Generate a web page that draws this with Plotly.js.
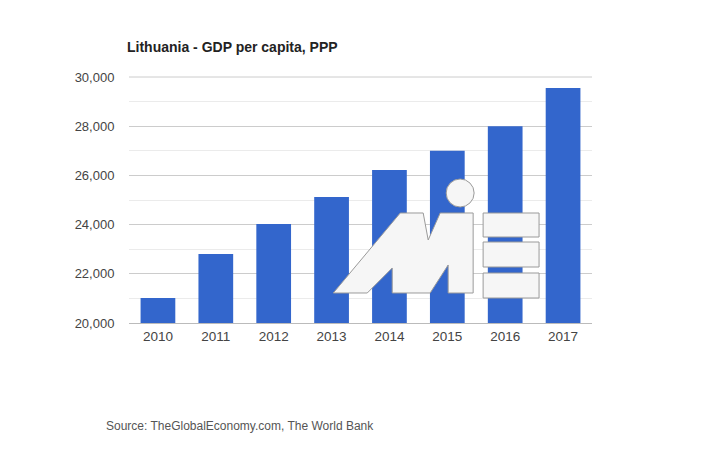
<!DOCTYPE html>
<html>
<head>
<meta charset="utf-8">
<script src="https://cdn.plot.ly/plotly-3.0.1.min.js"></script>
<style>html,body{margin:0;padding:0;background:#fff;}#chart{width:720px;height:450px;}</style>
</head>
<body>
<div id="chart"></div>
<script>
const years = ["2010","2011","2012","2013","2014","2015","2016","2017"];
const gdpPerCapita = [21020, 22800, 24020, 25120, 26220, 27000, 28000, 29550];
const yTicks = [20000, 22000, 24000, 26000, 28000, 30000];
const titleText = "Lithuania - GDP per capita, PPP";
const sourceText = "Source: TheGlobalEconomy.com, The World Bank";

// plot area in pixels (for placing the watermark logo)
const L = 128.5, R = 592, T = 77, B = 323;
const px = x => (x - L) / (R - L);
const py = y => (B - y) / (B - T);
function poly(pts) {
  return pts.map((p, i) => (i ? "L" : "M") + px(p[0]).toFixed(4) + "," + py(p[1]).toFixed(4)).join(" ") + " Z";
}
const logoFill = "#f6f6f6", logoLine = "#9a9a9a";
const shapes = [
  // top gridline at the range edge (Plotly omits gridlines on the plot border)
  {type: "line", xref: "paper", yref: "paper", layer: "below",
   x0: 0, x1: 1, y0: 1, y1: 1,
   line: {color: "#cccccc", width: 1}},
  {type: "path", xref: "paper", yref: "paper", layer: "above",
   path: poly([[333,293],[400,213],[423,213],[428,240],[440,213],[473,213],[473,293],[448,293],[448,265],[430,293],[392,293],[392,268],[367,293]]),
   fillcolor: logoFill, line: {color: logoLine, width: 1}},
  {type: "circle", xref: "paper", yref: "paper", layer: "above",
   x0: px(446), x1: px(474), y0: py(207), y1: py(179),
   fillcolor: logoFill, line: {color: logoLine, width: 1}},
  {type: "rect", xref: "paper", yref: "paper", layer: "above",
   x0: px(483), x1: px(539), y0: py(237), y1: py(213),
   fillcolor: logoFill, line: {color: logoLine, width: 1}},
  {type: "rect", xref: "paper", yref: "paper", layer: "above",
   x0: px(483), x1: px(539), y0: py(267), y1: py(242),
   fillcolor: logoFill, line: {color: logoLine, width: 1}},
  {type: "rect", xref: "paper", yref: "paper", layer: "above",
   x0: px(483), x1: px(539), y0: py(298), y1: py(273),
   fillcolor: logoFill, line: {color: logoLine, width: 1}}
];

const data = [{
  type: "bar",
  x: years,
  y: gdpPerCapita,
  marker: {color: "#3366cc"},
  hoverinfo: "x+y"
}];

const layout = {
  width: 720, height: 450,
  margin: {l: L, r: 720 - R, t: T, b: 450 - B, pad: 0},
  paper_bgcolor: "#ffffff", plot_bgcolor: "#ffffff",
  font: {family: "Arial, 'Liberation Sans', sans-serif", size: 13, color: "#444"},
  title: {
    text: "<b>" + titleText + "</b>",
    xref: "container", yref: "container",
    x: 127 / 720, xanchor: "left",
    y: 1 - 47 / 450, yanchor: "middle",
    font: {family: "Arial, 'Liberation Sans', sans-serif", size: 14, color: "#222"}
  },
  bargap: 0.4,
  showlegend: false,
  xaxis: {
    type: "category",
    showgrid: false,
    showline: true, linecolor: "#bbbbbb", linewidth: 1,
    ticks: "outside", ticklen: 1, tickcolor: "rgba(0,0,0,0)",
    tickfont: {size: 13.5, color: "#444"},
    fixedrange: true
  },
  yaxis: {
    range: [20000, 30000],
    tickvals: yTicks,
    tickformat: ",",
    showgrid: true, gridcolor: "#cccccc", gridwidth: 1,
    minor: {dtick: 1000, showgrid: true, gridcolor: "#ebebeb", gridwidth: 1},
    zeroline: false,
    showline: false,
    ticks: "outside", ticklen: 11, tickcolor: "rgba(0,0,0,0)",
    tickfont: {size: 13, color: "#444"},
    fixedrange: true
  },
  shapes: shapes,
  annotations: [{
    text: sourceText,
    xref: "paper", yref: "paper",
    x: px(103), y: py(426),
    xanchor: "left", yanchor: "middle",
    showarrow: false,
    font: {family: "Arial, 'Liberation Sans', sans-serif", size: 12, color: "#555"}
  }]
};

Plotly.newPlot("chart", data, layout, {displayModeBar: false, staticPlot: true});
</script>
</body>
</html>
